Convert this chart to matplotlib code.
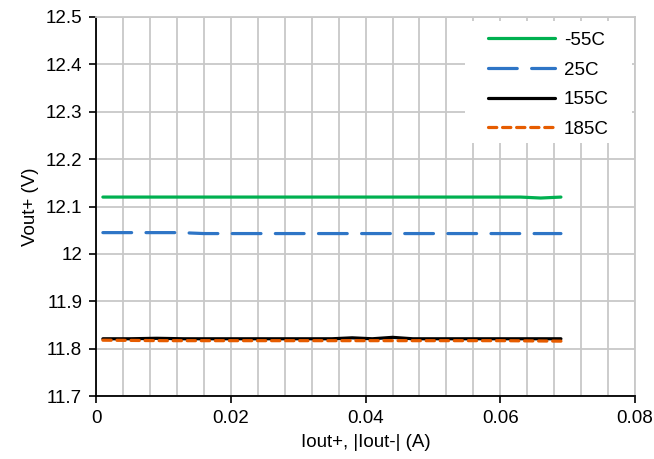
import matplotlib
matplotlib.use("Agg")
import matplotlib.pyplot as plt
from matplotlib.patches import Rectangle
from matplotlib.ticker import MultipleLocator

plt.rcParams['font.family'] = ['Liberation Sans', 'DejaVu Sans']
plt.rcParams['font.size'] = 13.5

x_m55 = [0.001, 0.01, 0.02, 0.03, 0.04, 0.05, 0.06, 0.063, 0.066, 0.069]
v_m55 = [12.120, 12.120, 12.120, 12.120, 12.120, 12.120, 12.120, 12.120, 12.118, 12.120]

x_25 = [0.001, 0.008, 0.0125, 0.016, 0.02, 0.03, 0.04, 0.05, 0.06, 0.069]
v_25 = [12.045, 12.045, 12.045, 12.043, 12.043, 12.043, 12.043, 12.043, 12.043, 12.043]

x_155 = [0.001, 0.005, 0.009, 0.013, 0.02, 0.03, 0.035, 0.038, 0.041, 0.044, 0.047, 0.055, 0.069]
v_155 = [11.821, 11.821, 11.822, 11.821, 11.821, 11.821, 11.821, 11.823, 11.821, 11.824, 11.821, 11.821, 11.821]

x_185 = [0.001, 0.01, 0.02, 0.03, 0.04, 0.05, 0.06, 0.069]
v_185 = [11.818, 11.817, 11.817, 11.817, 11.817, 11.817, 11.817, 11.816]

fig, ax = plt.subplots(figsize=(6.54, 4.59), dpi=100)
fig.subplots_adjust(left=0.147, right=0.971, top=0.963, bottom=0.137)

ax.plot(x_m55, v_m55, color='#00b050', lw=2.3, label='-55C', solid_capstyle='round')
ax.plot(x_25, v_25, color='#2e75c6', lw=2.3, dashes=(9, 4.5), label='25C', dash_capstyle='round')
ax.plot(x_155, v_155, color='black', lw=2.3, label='155C', solid_capstyle='round')
ax.plot(x_185, v_185, color='#e65c00', lw=2.3, dashes=(2.6, 1.8), label='185C', dash_capstyle='round')

ax.set_xlim(0, 0.08)
ax.set_ylim(11.7, 12.5)
ax.xaxis.set_minor_locator(MultipleLocator(0.004))
ax.set_xticks([0, 0.02, 0.04, 0.06, 0.08])
ax.set_xticklabels(['0', '0.02', '0.04', '0.06', '0.08'])
ax.set_yticks([11.7, 11.8, 11.9, 12.0, 12.1, 12.2, 12.3, 12.4, 12.5])
ax.set_yticklabels(['11.7', '11.8', '11.9', '12', '12.1', '12.2', '12.3', '12.4', '12.5'])

ax.grid(which='both', axis='x', color='#c8c8c8', lw=1.3)
ax.grid(which='major', axis='y', color='#c8c8c8', lw=1.3)
ax.set_axisbelow(True)
ax.tick_params(which='minor', length=0)
ax.tick_params(which='major', direction='out', length=5, width=1.2, color='black', pad=5)

ax.spines['top'].set_color('#c8c8c8')
ax.spines['right'].set_color('#c8c8c8')
for s in ax.spines.values():
    s.set_linewidth(1.3)

ax.set_xlabel('Iout+, |Iout-| (A)', labelpad=5)
ax.set_ylabel('Vout+ (V)', labelpad=5)

# white legend area covering the grid
ax.add_patch(Rectangle((0.685, 0.668), 0.31, 0.321, transform=ax.transAxes,
                       facecolor='white', edgecolor='none', zorder=1))

leg = ax.legend(loc='upper left', bbox_to_anchor=(0.727, 0.961), frameon=False,
                handlelength=3.6, handletextpad=0.45, labelspacing=0.67, borderpad=0,
                borderaxespad=0)

fig.savefig('out.png', dpi=100)
